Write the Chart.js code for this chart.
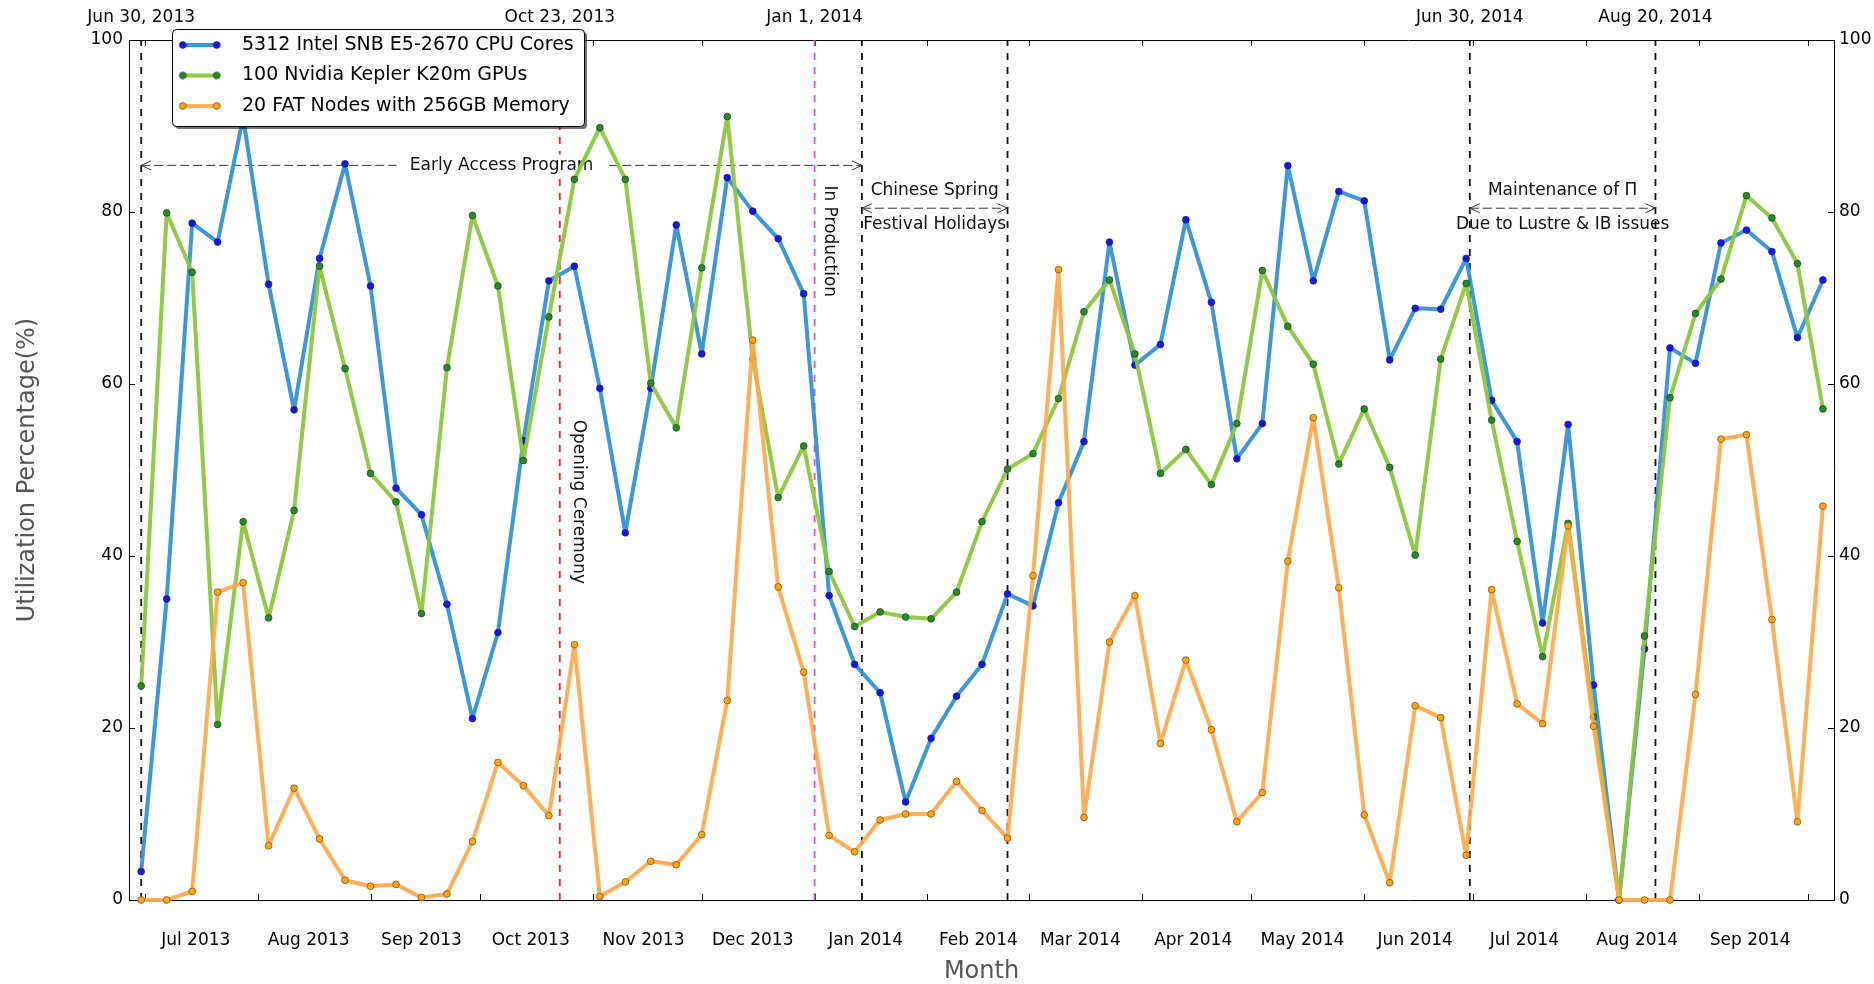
<!DOCTYPE html>
<html>
<head>
<meta charset="utf-8">
<script src="https://cdn.jsdelivr.net/npm/chart.js@4.4.1/dist/chart.umd.min.js"></script>
<style>
  html, body { margin: 0; padding: 0; background: #ffffff; }
  #c { display: block; }
</style>
</head>
<body>
<canvas id="c" width="1874" height="984"></canvas>
<script>
// ---------------- DATA ----------------
const seriesLabels = [
  '5312 Intel SNB E5-2670 CPU Cores',
  '100 Nvidia Kepler K20m GPUs',
  '20 FAT Nodes with 256GB Memory'
];

const weekDates = [
  '2013-06-30','2013-07-07','2013-07-14','2013-07-21','2013-07-28','2013-08-04','2013-08-11','2013-08-18',
  '2013-08-25','2013-09-01','2013-09-08','2013-09-15','2013-09-22','2013-09-29','2013-10-06','2013-10-13',
  '2013-10-20','2013-10-27','2013-11-03','2013-11-10','2013-11-17','2013-11-24','2013-12-01','2013-12-08',
  '2013-12-15','2013-12-22','2013-12-29','2014-01-05','2014-01-12','2014-01-19','2014-01-26','2014-02-02',
  '2014-02-09','2014-02-16','2014-02-23','2014-03-02','2014-03-09','2014-03-16','2014-03-23','2014-03-30',
  '2014-04-06','2014-04-13','2014-04-20','2014-04-27','2014-05-04','2014-05-11','2014-05-18','2014-05-25',
  '2014-06-01','2014-06-08','2014-06-15','2014-06-22','2014-06-29','2014-07-06','2014-07-13','2014-07-20',
  '2014-07-27','2014-08-03','2014-08-10','2014-08-17','2014-08-24','2014-08-31','2014-09-07','2014-09-14',
  '2014-09-21','2014-09-28','2014-10-05'
];

const cpuCores = [
  3.3, 35.0, 78.7, 76.5, 91.0, 71.6, 57.0, 74.6, 85.6, 71.4,
  47.9, 44.8, 34.4, 21.1, 31.1, 53.4, 72.0, 73.7, 59.5, 42.7,
  59.5, 78.5, 63.5, 84.0, 80.1, 76.9, 70.5, 35.4, 27.4, 24.1,
  11.4, 18.8, 23.7, 27.4, 35.6, 34.2, 46.2, 53.3, 76.5, 62.2,
  64.6, 79.1, 69.5, 51.3, 55.4, 85.4, 72.0, 82.4, 81.3, 62.8,
  68.8, 68.7, 74.6, 58.1, 53.3, 32.2, 55.3, 25.0, 0.0, 29.2,
  64.2, 62.4, 76.4, 77.9, 75.4, 65.4, 72.1
];

const gpuK20m = [
  24.9, 79.9, 73.0, 20.4, 44.0, 32.8, 45.3, 73.7, 61.8, 49.6,
  46.3, 33.3, 61.9, 79.6, 71.4, 51.1, 67.8, 83.8, 89.8, 83.8,
  60.1, 54.9, 73.5, 91.1, 62.9, 46.8, 52.8, 38.2, 31.8, 33.5,
  32.9, 32.7, 35.8, 44.0, 50.1, 51.9, 58.3, 68.4, 72.1, 63.5,
  49.6, 52.4, 48.3, 55.4, 73.2, 66.7, 62.3, 50.7, 57.1, 50.3,
  40.1, 62.9, 71.7, 55.8, 41.7, 28.3, 43.8, 21.3, 0.0, 30.7,
  58.4, 68.2, 72.2, 81.9, 79.3, 74.0, 57.1
];

const fatNodes = [
  0.0, 0.0, 1.0, 35.8, 36.9, 6.3, 13.0, 7.1, 2.3, 1.6,
  1.8, 0.3, 0.7, 6.8, 16.0, 13.3, 9.8, 29.7, 0.4, 2.1,
  4.5, 4.1, 7.6, 23.2, 65.1, 36.4, 26.5, 7.5, 5.6, 9.3,
  10.0, 10.0, 13.8, 10.4, 7.2, 37.7, 73.3, 9.6, 30.0, 35.4,
  18.2, 27.9, 19.8, 9.1, 12.5, 39.4, 56.1, 36.3, 9.9, 2.0,
  22.6, 21.2, 5.2, 36.1, 22.8, 20.5, 43.5, 20.2, 0.0, 0.0,
  0.0, 23.9, 53.6, 54.1, 32.6, 9.1, 45.8
];

const monthLabels = ['Jul 2013','Aug 2013','Sep 2013','Oct 2013','Nov 2013','Dec 2013','Jan 2014',
  'Feb 2014','Mar 2014','Apr 2014','May 2014','Jun 2014','Jul 2014','Aug 2014','Sep 2014'];
const monthLabelDates = ['2013-07-15','2013-08-15','2013-09-15','2013-10-15','2013-11-15','2013-12-15','2014-01-15',
  '2014-02-15','2014-03-15','2014-04-15','2014-05-15','2014-06-15','2014-07-15','2014-08-15','2014-09-15'];
const monthStartDates = ['2013-07-01','2013-08-01','2013-09-01','2013-10-01','2013-11-01','2013-12-01','2014-01-01',
  '2014-02-01','2014-03-01','2014-04-01','2014-05-01','2014-06-01','2014-07-01','2014-08-01','2014-09-01','2014-10-01'];

const eventLabels = ['Jun 30, 2013','Oct 23, 2013','Jan 1, 2014','Jun 30, 2014','Aug 20, 2014'];
const eventDates  = ['2013-06-30','2013-10-23','2014-01-01','2014-06-30','2014-08-20'];

const yTicks = [0, 20, 40, 60, 80, 100];

// ---------------- HELPERS ----------------
const FONT = "'DejaVu Sans', 'Bitstream Vera Sans', sans-serif";
const dayOf = s => { const p = s.split('-').map(Number); return (Date.UTC(p[0], p[1]-1, p[2]) - Date.UTC(2013, 5, 30)) / 86400000; };
const weekDays = weekDates.map(dayOf);
const X_MIN = -3.35, X_MAX = 465.05;

const STY = [
  { line: 'rgba(50,146,214,0.95)', fill: '#1414f5', edge: '#202050' },
  { line: 'rgba(140,198,60,0.95)', fill: '#238c23', edge: '#2a3a2a' },
  { line: 'rgba(255,168,72,0.92)', fill: '#ffa514', edge: '#6b4a10' }
];

function sampleImage(s) {
  const c = document.createElement('canvas');
  c.width = 46; c.height = 14;
  const g = c.getContext('2d');
  g.strokeStyle = s.line; g.lineWidth = 4; g.lineCap = 'round';
  g.beginPath(); g.moveTo(6, 7); g.lineTo(40, 7); g.stroke();
  [6, 40].forEach(x => {
    g.beginPath(); g.arc(x, 7, 3.4, 0, Math.PI * 2);
    g.fillStyle = s.fill; g.fill();
    g.lineWidth = 0.7; g.strokeStyle = s.edge; g.stroke();
  });
  return c;
}
const samples = STY.map(sampleImage);

// Legend drawn above the data lines, with a framed box
const legendPlugin = (Chart.registry && Chart.registry.getPlugin('legend')) || Chart.Legend;
const LegendCls = legendPlugin._element;
LegendCls.prototype._layers = function () {
  const self = this;
  return [{ z: 1, draw(area) {
    const ctx = self.ctx, ca = self.chart.chartArea;
    const bx = ca.left + 43, by = ca.top - 11, bw = 412, bh = 97;
    ctx.save();
    ctx.fillStyle = 'rgba(0,0,0,0.55)';
    roundRect(ctx, bx + 3, by + 3, bw, bh, 4); ctx.fill();
    ctx.fillStyle = '#ffffff'; ctx.strokeStyle = '#000'; ctx.lineWidth = 1;
    roundRect(ctx, bx + 0.5, by + 0.5, bw, bh, 4); ctx.fill(); ctx.stroke();
    ctx.restore();
    self.draw(area);
  } }];
};
function roundRect(ctx, x, y, w, h, r) {
  ctx.beginPath();
  ctx.moveTo(x + r, y); ctx.lineTo(x + w - r, y); ctx.quadraticCurveTo(x + w, y, x + w, y + r);
  ctx.lineTo(x + w, y + h - r); ctx.quadraticCurveTo(x + w, y + h, x + w - r, y + h);
  ctx.lineTo(x + r, y + h); ctx.quadraticCurveTo(x, y + h, x, y + h - r);
  ctx.lineTo(x, y + r); ctx.quadraticCurveTo(x, y, x + r, y); ctx.closePath();
}

const legendPos = {
  id: 'legendPos',
  afterLayout(chart) {
    const lg = chart.legend; if (!lg) return;
    const ca = chart.chartArea;
    lg.left = ca.left + 26.4; lg.top = ca.top - 16;
    lg.width = 440; lg.height = 130;
    lg.right = lg.left + 440; lg.bottom = lg.top + 130;
  }
};

function dashedArrow(ctx, x1, x2, y) {
  ctx.save();
  ctx.strokeStyle = '#333'; ctx.lineWidth = 1;
  ctx.setLineDash([9, 4]);
  ctx.beginPath(); ctx.moveTo(x1, y); ctx.lineTo(x2, y); ctx.stroke();
  ctx.setLineDash([]);
  ctx.beginPath();
  ctx.moveTo(x1 + 10, y - 4.5); ctx.lineTo(x1, y); ctx.lineTo(x1 + 10, y + 4.5);
  ctx.moveTo(x2 - 10, y - 4.5); ctx.lineTo(x2, y); ctx.lineTo(x2 - 10, y + 4.5);
  ctx.stroke();
  ctx.restore();
}

const annotations = {
  id: 'annotations',
  beforeDatasetsDraw(chart) {
    const { ctx, chartArea: ca } = chart;
    const x = chart.scales.x, y = chart.scales.y;
    const X = s => x.getPixelForValue(typeof s === 'string' ? dayOf(s) : s);
    ctx.save();
    // inward tick marks
    ctx.strokeStyle = '#000'; ctx.lineWidth = 1;
    ctx.beginPath();
    monthStartDates.forEach(s => {
      const px = Math.round(X(s)) + 0.5;
      if (px < ca.left || px > ca.right) return;
      ctx.moveTo(px, ca.bottom); ctx.lineTo(px, ca.bottom - 6);
      ctx.moveTo(px, ca.top); ctx.lineTo(px, ca.top + 6);
    });
    yTicks.forEach(v => {
      const py = Math.round(y.getPixelForValue(v)) + 0.5;
      ctx.moveTo(ca.left, py); ctx.lineTo(ca.left + 6, py);
      ctx.moveTo(ca.right, py); ctx.lineTo(ca.right - 6, py);
    });
    ctx.stroke();

    // vertical event lines
    const vlines = [
      ['2013-06-30', '#111'], ['2013-10-23', '#ff2020'], ['2014-01-01', '#ff40e0'],
      ['2014-01-14', '#111'], ['2014-02-23', '#111'], ['2014-06-30', '#111'], ['2014-08-20', '#111']
    ];
    ctx.lineWidth = 1.8; ctx.setLineDash([7, 7]);
    vlines.forEach(([d, col]) => {
      const px = X(d);
      ctx.strokeStyle = col;
      ctx.beginPath(); ctx.moveTo(px, ca.bottom); ctx.lineTo(px, ca.top); ctx.stroke();
    });
    ctx.setLineDash([]);

    // arrows
    const yEA = y.getPixelForValue(85.42);
    dashedArrow(ctx, X('2013-06-30'), X('2014-01-14'), yEA);
    const yCS = y.getPixelForValue(80.44);
    dashedArrow(ctx, X('2014-01-14'), X('2014-02-23'), yCS);
    dashedArrow(ctx, X('2014-06-30'), X('2014-08-20'), yCS);

    ctx.font = '17px ' + FONT;
    ctx.fillStyle = '#111';
    ctx.textAlign = 'center'; ctx.textBaseline = 'middle';
    // Early Access Program label with white box
    const eaX = (X('2013-06-30') + X('2014-01-14')) / 2;
    const t = 'Early Access Program';
    const w = ctx.measureText(t).width;
    ctx.fillStyle = '#fff';
    ctx.fillRect(eaX - w / 2 - 13, yEA - 11, w + 26, 22);
    ctx.fillStyle = '#111';
    ctx.fillText(t, eaX, yEA);

    const csX = (X('2014-01-14') + X('2014-02-23')) / 2;
    ctx.fillText('Chinese Spring', csX, y.getPixelForValue(82.48));
    ctx.fillText('Festival Holidays', csX, y.getPixelForValue(78.53));
    const mX = (X('2014-06-30') + X('2014-08-20')) / 2;
    ctx.fillText('Maintenance of \u03A0', mX, y.getPixelForValue(82.48));
    ctx.fillText('Due to Lustre & IB issues', mX, y.getPixelForValue(78.53));

    // rotated labels
    const rot = (text, d, v) => {
      ctx.save();
      ctx.translate(X(d), y.getPixelForValue(v));
      ctx.rotate(Math.PI / 2);
      ctx.fillText(text, 0, 0);
      ctx.restore();
    };
    rot('Opening Ceremony', 120.0, 46.3);
    rot('In Production', 189.1, 76.6);
    ctx.restore();
  }
};

const tickFont = { family: FONT, size: 17 };

function mkDataset(i, values, order) {
  return {
    label: seriesLabels[i],
    data: weekDays.map((d, k) => ({ x: d, y: values[k] })),
    borderColor: STY[i].line,
    backgroundColor: STY[i].fill,
    borderWidth: 4,
    borderJoinStyle: 'round',
    borderCapStyle: 'round',
    pointRadius: 3.4,
    pointHoverRadius: 3.4,
    pointBackgroundColor: STY[i].fill,
    pointBorderColor: STY[i].edge,
    pointBorderWidth: 0.7,
    tension: 0,
    fill: false,
    clip: 12,
    order: order
  };
}

new Chart(document.getElementById('c'), {
  type: 'line',
  data: {
    datasets: [
      mkDataset(0, cpuCores, 3),
      mkDataset(1, gpuK20m, 2),
      mkDataset(2, fatNodes, 1)
    ]
  },
  options: {
    responsive: false,
    devicePixelRatio: 1,
    animation: false,
    layout: { padding: 0 },
    plugins: {
      tooltip: { enabled: false },
      legend: {
        display: true,
        position: 'chartArea',
        align: 'start',
        labels: {
          usePointStyle: true,
          pointStyleWidth: 65.6,
          boxHeight: 12,
          padding: 11.5,
          color: '#000',
          textAlign: 'left',
          font: { family: FONT, size: 19, lineHeight: 1 },
          generateLabels: (chart) => chart.data.datasets.map((ds, i) => ({
            text: ds.label, pointStyle: samples[i], datasetIndex: i, hidden: false,
            lineWidth: 0, strokeStyle: 'rgba(0,0,0,0)', fillStyle: 'rgba(0,0,0,0)', fontColor: '#000'
          }))
        }
      }
    },
    scales: {
      x: {
        type: 'linear', position: 'bottom', min: X_MIN, max: X_MAX,
        afterBuildTicks: s => { s.ticks = monthLabelDates.map(d => ({ value: dayOf(d) })); },
        ticks: { autoSkip: false, maxRotation: 0, minRotation: 0, padding: 30, color: '#000', font: tickFont,
                 callback: (v, i) => monthLabels[i] },
        grid: { display: false, drawTicks: false },
        border: { display: true, color: '#000', width: 1 },
        title: { display: true, text: 'Month', color: '#555', font: { family: FONT, size: 24, lineHeight: 1 }, padding: { top: 0, bottom: 0 } },
        afterFit: s => { s.height = 84; }
      },
      xTop: {
        type: 'linear', position: 'top', min: X_MIN, max: X_MAX,
        afterBuildTicks: s => { s.ticks = eventDates.map(d => ({ value: dayOf(d) })); },
        ticks: { autoSkip: false, maxRotation: 0, minRotation: 0, padding: 12, color: '#000', font: tickFont,
                 callback: (v, i) => eventLabels[i] },
        grid: { display: false, drawTicks: false },
        border: { display: true, color: '#000', width: 1 },
        afterFit: s => { s.height = 40; }
      },
      y: {
        type: 'linear', position: 'left', min: 0, max: 100,
        afterBuildTicks: s => { s.ticks = yTicks.map(v => ({ value: v })); },
        ticks: { padding: 6, color: '#000', font: tickFont },
        grid: { display: false, drawTicks: false },
        border: { display: true, color: '#000', width: 1 },
        title: { display: true, text: 'Utilization Percentage(%)', color: '#555', font: { family: FONT, size: 24, lineHeight: 1 }, padding: { top: 15.5, bottom: 0 } },
        afterFit: s => { s.width = 129; }
      },
      y2: {
        type: 'linear', position: 'right', min: 0, max: 100,
        afterBuildTicks: s => { s.ticks = yTicks.map(v => ({ value: v })); },
        ticks: { padding: 5, color: '#000', font: tickFont },
        grid: { display: false, drawTicks: false },
        border: { display: true, color: '#000', width: 1 },
        afterFit: s => { s.width = 40; }
      }
    }
  },
  plugins: [legendPos, annotations]
});
</script>
</body>
</html>
